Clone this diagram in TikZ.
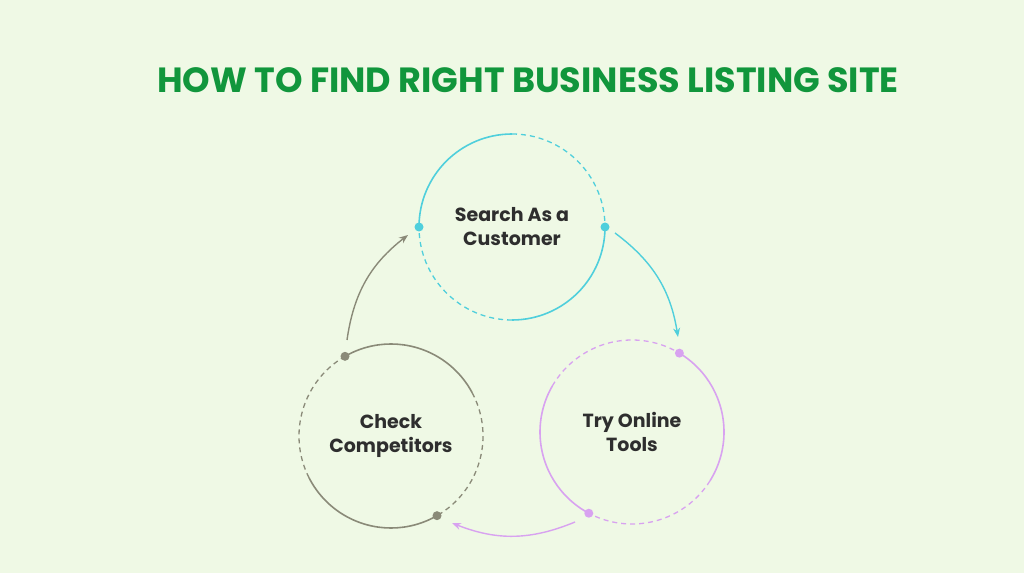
\documentclass[tikz,border=0pt]{standalone}
\usepackage{fontspec}
\setmainfont{Poppins}
\usetikzlibrary{arrows.meta,calc}
\definecolor{bg}{HTML}{EFF9E5}
\definecolor{ttl}{HTML}{11963C}
\definecolor{tl}{HTML}{4FCFDC}
\definecolor{pu}{HTML}{D8A2F0}
\definecolor{gr}{HTML}{8A8A78}
\definecolor{tx}{HTML}{2E2E2E}
\tikzset{
 lbl/.style={font=\bfseries\fontsize{19}{24}\selectfont, text=tx, align=center},
 sol/.style={line width=1.6pt},
 dsh/.style={line width=1.3pt, dash pattern=on 5pt off 4pt},
 arr/.style={line width=1.4pt, -{Stealth[length=9pt,width=7pt]}, bend left=22},
 dot/.style={circle, inner sep=0pt, minimum size=9pt},
}
\newcommand\myarc[5]{\draw[#1] (#2) ++(#3:#5) arc[start angle=#3,end angle=#4,radius=#5];}
\begin{document}
\begin{tikzpicture}[x=1pt,y=1pt]
\fill[bg] (0,0) rectangle (1024,573);
\useasboundingbox (0,0) rectangle (1024,573);
\node[font=\bfseries\fontsize{35}{40}\selectfont, text=ttl] (title) at (528,493) {HOW TO FIND RIGHT BUSINESS LISTING SITE};
% top circle
\coordinate (c1) at (512,346);
\myarc{tl,sol}{c1}{180}{90}{93}
\myarc{tl,dsh}{c1}{90}{0}{93}
\myarc{tl,sol}{c1}{0}{-90}{93}
\myarc{tl,dsh}{c1}{-90}{-180}{93}
\node[dot,fill=tl] (d1a) at ($(c1)+(180:93)$) {};
\node[dot,fill=tl] (d1b) at ($(c1)+(0:93)$) {};
\node[lbl] (t1) at (c1) {Search As a\\Customer};
% bottom right
\coordinate (c2) at (632,141);
\myarc{pu,sol}{c2}{59}{-32}{92}
\myarc{pu,dsh}{c2}{-32}{-118}{92}
\myarc{pu,sol}{c2}{242}{150}{92}
\myarc{pu,dsh}{c2}{150}{59}{92}
\node[dot,fill=pu] (d2a) at ($(c2)+(59:92)$) {};
\node[dot,fill=pu] (d2b) at ($(c2)+(242:92)$) {};
\node[lbl] (t2) at (c2) {Try Online\\Tools};
% bottom left
\coordinate (c3) at (391,137);
\myarc{gr,sol}{c3}{120}{28}{92}
\myarc{gr,dsh}{c3}{28}{-60}{92}
\myarc{gr,sol}{c3}{-60}{-153}{92}
\myarc{gr,dsh}{c3}{207}{120}{92}
\node[dot,fill=gr] (d3a) at ($(c3)+(120:92)$) {};
\node[dot,fill=gr] (d3b) at ($(c3)+(-60:92)$) {};
\node[lbl] (t3) at (c3) {Check\\Competitors};
% arrows
\coordinate (a1s) at (347,233); \coordinate (a1e) at (408,338);
\coordinate (a2s) at (615,340); \coordinate (a2e) at (678,236);
\coordinate (a3s) at (575,51);  \coordinate (a3e) at (452,50);
\draw[gr,arr] (a1s) to (a1e);
\draw[tl,arr] (a2s) to (a2e);
\draw[pu,arr] (a3s) to (a3e);
\end{tikzpicture}
\end{document}
